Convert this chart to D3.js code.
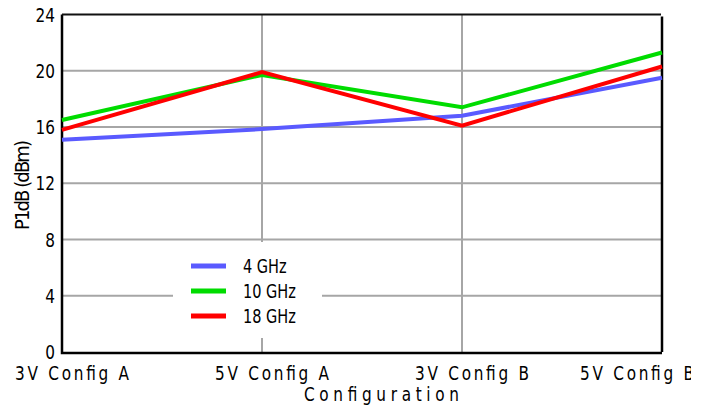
<!DOCTYPE html>
<html>
<head>
<meta charset="utf-8">
<script src="https://cdn.jsdelivr.net/npm/d3@7"></script>
<style>
	body { margin: 0; background: #fff; }
	text { font-family: 'Liberation Sans Narrow', 'DejaVu Sans Condensed', sans-serif; fill: #000; }
</style>
</head>
<body>
<div id="chart"></div>
<script>

// chart data
var categories = ['3V Config A', '5V Config A', '3V Config B', '5V Config B'];
var ghz4 = [15.1, 15.85, 16.8, 19.5];
var ghz10 = [16.5, 19.7, 17.4, 21.3];
var ghz18 = [15.8, 19.9, 16.1, 20.3];
var seriesNames = ['4 GHz', '10 GHz', '18 GHz'];
var yTicks = [0, 4, 8, 12, 16, 20, 24];

var series = [
	{name: seriesNames[0], values: ghz4, color: '#5a5aff'},
	{name: seriesNames[1], values: ghz10, color: '#00dc00'},
	{name: seriesNames[2], values: ghz18, color: '#ff0000'}
];

var width = 691,
	height = 410,
	plotL = 62, plotR = 662, plotT = 14.5, plotB = 352;

// glyphs in the original are narrow, squeeze horizontally
var SQ = 0.85;

var svg = d3.select('#chart').append('svg')
	.attr('width', width)
	.attr('height', height);

var x = d3.scalePoint()
	.domain(categories)
	.range([plotL, plotR]);

var y = d3.scaleLinear()
	.domain([0, 24])
	.range([plotB, plotT]);

function at(px, py) {
	return 'translate(' + px + ',' + py + ') scale(' + SQ + ',1)';
}

// grid
var grid = svg.append('g').attr('class', 'grid');
grid.selectAll('line.h')
	.data(yTicks.filter(d => d > 0 && d < 24))
	.enter()
	.append('line')
	.attr('x1', plotL).attr('x2', plotR)
	.attr('y1', d => y(d)).attr('y2', d => y(d))
	.style('stroke', '#a6a6a6')
	.style('stroke-width', 2);

grid.selectAll('line.v')
	.data(categories.slice(1, -1))
	.enter()
	.append('line')
	.attr('x1', d => x(d)).attr('x2', d => x(d))
	.attr('y1', plotT).attr('y2', plotB)
	.style('stroke', '#a6a6a6')
	.style('stroke-width', 2);

// legend background hides grid
var legend = svg.append('g').attr('transform', 'translate(173,242)');
legend.append('rect')
	.attr('width', 149)
	.attr('height', 96)
	.style('fill', '#fff');

// axes frame
svg.append('path')
	.attr('d', 'M' + plotL + ',' + plotT + 'V' + (plotB + 1) + 'H' + plotR)
	.style('fill', 'none')
	.style('stroke', '#000')
	.style('stroke-width', 2.5);
svg.append('line')
	.attr('x1', plotL).attr('x2', plotR - 1)
	.attr('y1', plotT).attr('y2', plotT)
	.style('stroke', '#111')
	.style('stroke-width', 2);
svg.append('line')
	.attr('x1', plotR).attr('x2', plotR)
	.attr('y1', plotT + 2).attr('y2', plotB)
	.style('stroke', '#000')
	.style('stroke-width', 2.5);

// y tick labels
svg.append('g').selectAll('text')
	.data(yTicks)
	.enter()
	.append('text')
	.attr('transform', d => at(55, y(d)))
	.attr('dy', '0.36em')
	.attr('text-anchor', 'end')
	.style('font-size', '20px')
	.text(d => d);

// x tick labels
var labelW = 114;
svg.append('g').selectAll('text')
	.data(categories)
	.enter()
	.append('text')
	.attr('transform', function(d) {
		var cx = Math.min(x(d) + 10, width + 3 - labelW / 2);
		return at(cx - labelW / 2, 380);
	})
	.attr('textLength', labelW / SQ)
	.attr('lengthAdjust', 'spacing')
	.style('font-size', '20px')
	.text(d => d);

// axis titles
svg.append('text')
	.attr('transform', at(304, 401))
	.attr('textLength', 155 / SQ)
	.attr('lengthAdjust', 'spacing')
	.style('font-size', '20px')
	.text('Configuration');

svg.append('text')
	.attr('transform', 'translate(29,185) rotate(-90)')
	.attr('text-anchor', 'middle')
	.attr('textLength', 90)
	.attr('lengthAdjust', 'spacing')
	.style('font-size', '20px')
	.text('P1dB (dBm)');

// lines
var lineGen = d3.line()
	.x((d, i) => x(categories[i]))
	.y(d => y(d));

svg.append('g').selectAll('path')
	.data(series)
	.enter()
	.append('path')
	.attr('d', d => lineGen(d.values))
	.style('fill', 'none')
	.style('stroke', d => d.color)
	.style('stroke-width', 4)
	.style('stroke-linejoin', 'miter');

// legend items
var items = legend.selectAll('g.item')
	.data(series)
	.enter()
	.append('g')
	.attr('transform', (d, i) => 'translate(0,' + (24 + i * 25) + ')');

items.append('line')
	.attr('x1', 18).attr('x2', 53)
	.attr('y1', 0).attr('y2', 0)
	.style('stroke', d => d.color)
	.style('stroke-width', 5);

items.append('text')
	.attr('transform', at(70, 0))
	.attr('dy', '0.36em')
	.style('font-size', '19px')
	.text(d => d.name);

</script>
</body>
</html>
